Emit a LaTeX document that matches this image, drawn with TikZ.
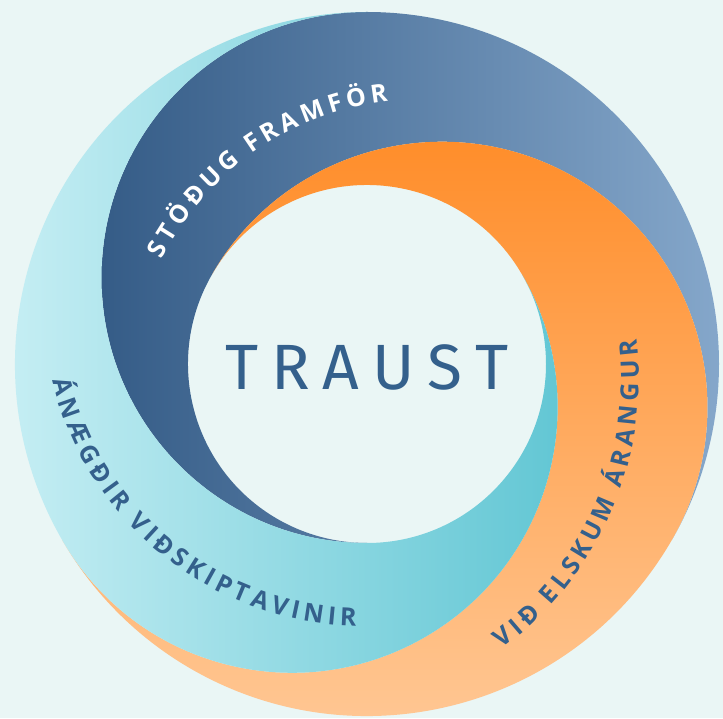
\documentclass[tikz,border=0pt]{standalone}
\usepackage{fontspec}
\setmainfont{Open Sans}
\newfontfamily\lblfont{Open Sans}
\newfontfamily\titlefont{Fira Sans}
\usetikzlibrary{decorations.text}
\definecolor{bg}{HTML}{EAF6F5}
\definecolor{bluedark}{HTML}{355C87}
\definecolor{bluelight}{HTML}{88AACD}
\definecolor{cyanlight}{HTML}{CDF1F6}
\definecolor{cyandark}{HTML}{5CC4D2}
\definecolor{orangetop}{HTML}{FF8A24}
\definecolor{orangebot}{HTML}{FFCB9B}
\definecolor{textblue}{HTML}{34608C}
\newcommand\lsp{\kern4.5pt}
\newcommand\wsp{{\kern9pt}}
\newcommand\lblfmt{\lblfont\bfseries\fontsize{25}{25}\selectfont}
\begin{document}
\begin{tikzpicture}[x=1pt,y=1pt,
  arclabel/.style={decorate, decoration={text along path, text align=center, text color=#1}}]
\def\Rout{352}\def\Rin{179}\def\Rc{265.5}
\fill[bg] (0,0) rectangle (723,718);
\useasboundingbox (0,0) rectangle (723,718);
\coordinate (O) at (367,354);
% blue arm
\shade[left color=bluedark, right color=bluelight]
  ([shift={(270:\Rin)}]O) arc[start angle=270, end angle=90, radius=\Rc]
  arc[start angle=90, end angle=-30, radius=\Rout]
  arc[start angle=-30, end angle=150, radius=\Rc]
  arc[start angle=150, end angle=270, radius=\Rin] -- cycle;
% orange arm
\shade[top color=orangetop, bottom color=orangebot]
  ([shift={(150:\Rin)}]O) arc[start angle=150, end angle=-30, radius=\Rc]
  arc[start angle=-30, end angle=-150, radius=\Rout]
  arc[start angle=-150, end angle=30, radius=\Rc]
  arc[start angle=30, end angle=150, radius=\Rin] -- cycle;
% cyan arm
\shade[left color=cyanlight, right color=cyandark]
  ([shift={(30:\Rin)}]O) arc[start angle=30, end angle=-150, radius=\Rc]
  arc[start angle=-150, end angle=-270, radius=\Rout]
  arc[start angle=90, end angle=270, radius=\Rc]
  arc[start angle=270, end angle=390, radius=\Rin] -- cycle;
% labels
\coordinate (cb) at (422,328);
\coordinate (cc) at (363,411);
\coordinate (co) at (307,338);
\path[arclabel=white, decoration={text={|\lblfmt|{S\lsp}{T\lsp}{Ö\lsp}{Ð\lsp}{U\lsp}{G\lsp}\wsp{F\lsp}{R\lsp}{A\lsp}{M\lsp}{F\lsp}{Ö\lsp}{R}}}]
  ([shift={(175:291)}]cb) arc[start angle=175, end angle=75, radius=291];
\path[arclabel=textblue, decoration={text={|\lblfmt|{Á\lsp}{N\lsp}{Æ\lsp}{G\lsp}{Ð\lsp}{I\lsp}{R\lsp}\wsp{V\lsp}{I\lsp}{Ð\lsp}{S\lsp}{K\lsp}{I\lsp}{P\lsp}{T\lsp}{A\lsp}{V\lsp}{I\lsp}{N\lsp}{I\lsp}{R}}}]
  ([shift={(176:319)}]cc) arc[start angle=176, end angle=286, radius=319];
\path[arclabel=textblue, decoration={text={|\lblfmt|{V\lsp}{I\lsp}{Ð\lsp}\wsp{E\lsp}{L\lsp}{S\lsp}{K\lsp}{U\lsp}{M\lsp}\wsp{Á\lsp}{R\lsp}{A\lsp}{N\lsp}{G\lsp}{U\lsp}{R}}}]
  ([shift={(-78.5:332)}]co) arc[start angle=-78.5, end angle=31.5, radius=332];
\node[text=textblue, font=\titlefont\fontsize{64}{64}\selectfont, inner sep=0pt] (traust) at (367,351)
  {T\kern13pt R\kern13pt A\kern13pt U\kern13pt S\kern13pt T};
\end{tikzpicture}
\end{document}
